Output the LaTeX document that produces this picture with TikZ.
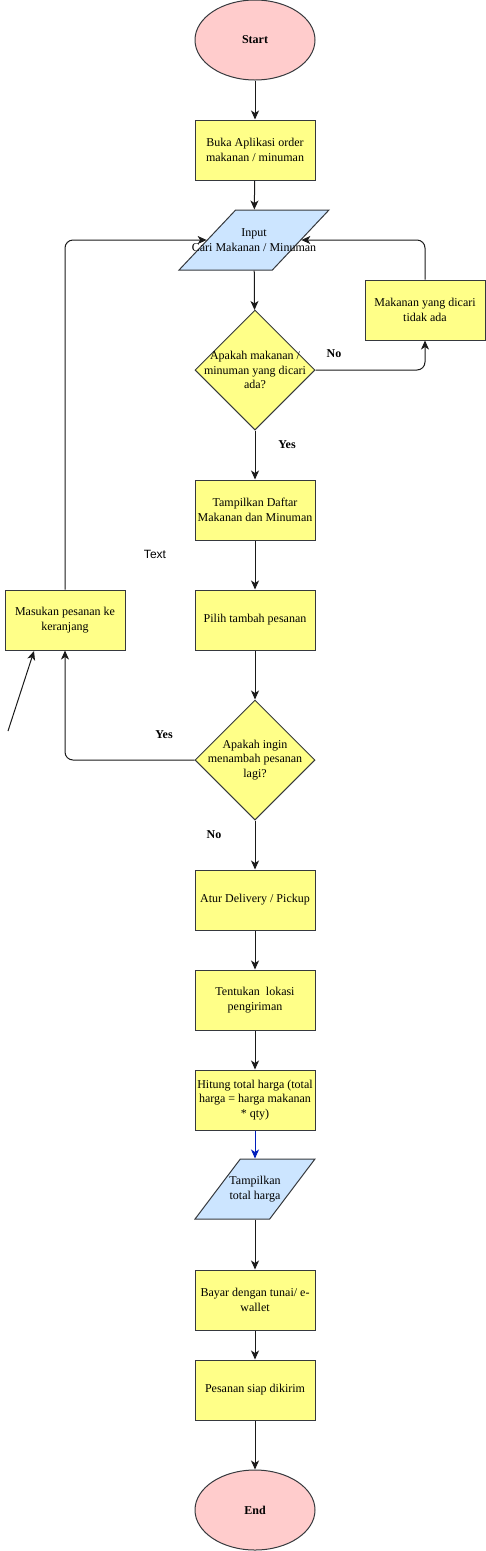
\documentclass[tikz,border=0pt]{standalone}
\usepackage{fontspec}
\setmainfont{Liberation Serif}
\setsansfont{Liberation Sans}
\usetikzlibrary{arrows.meta, positioning, calc, shapes.geometric}
\definecolor{stepFill}{HTML}{FFFF88}
\definecolor{ioFill}{HTML}{CCE5FF}
\definecolor{termFill}{HTML}{FFCCCC}
\definecolor{shapeLine}{HTML}{36393D}
\definecolor{arrowDark}{HTML}{1A1A1A}
\definecolor{arrowBlue}{HTML}{001DBC}

\begin{document}
\begin{tikzpicture}[
  x=1pt, y=-1pt,
  font=\fontsize{12}{14.5}\selectfont,
  base/.style    ={draw=shapeLine, line width=1pt, align=center, inner sep=1pt},
  terminal/.style={base, ellipse, fill=termFill, minimum width=120pt, minimum height=80pt,
                   font=\fontsize{12}{14.5}\selectfont\bfseries},
  process/.style ={base, rectangle, fill=stepFill, minimum width=120pt, minimum height=60pt},
  io/.style      ={base, trapezium, trapezium left angle=71.57, trapezium right angle=108.43,
                   trapezium stretches=true, fill=ioFill, minimum height=60pt, inner sep=2pt},
  dec/.style     ={base, diamond, fill=stepFill, minimum width=120pt, minimum height=120pt, inner sep=0pt},
  intext/.style  ={align=center, inner sep=0pt},
  edgelbl/.style ={font=\fontsize{12}{14.5}\selectfont\bfseries, inner sep=0pt},
  flow/.style    ={-{Stealth[length=9pt, width=8pt, inset=2.5pt]}, draw=arrowDark, line width=1pt},
  blueflow/.style={flow, draw=arrowBlue},
]
\useasboundingbox (0,0) rectangle (485,1551);

% ----- Main vertical spine -----
\node[terminal] (START) at (255,40) {Start};
\node[process] (OPEN) at (255,150) {Buka Aplikasi order\\makanan / minuman};

\node[io, minimum width=150pt] (INPUT) at (254,240) {\strut};
\node[intext] (INPUTtxt) at (INPUT.center) {Input\\Cari Makanan / Minuman};

\node[dec] (DEC1) at (255,370) {};
\node[intext] (DEC1txt) at (DEC1.center) {Apakah makanan /\\minuman yang dicari\\ada?};

\node[process] (LIST) at (255,510) {Tampilkan Daftar\\Makanan dan Minuman};
\node[process] (PICK) at (255,620) {Pilih tambah pesanan};

\node[dec] (DEC2) at (255,760) {};
\node[intext] (DEC2txt) at (DEC2.center) {Apakah ingin\\menambah pesanan\\lagi?};

\node[process] (DELIV) at (255,900) {Atur Delivery / Pickup};
\node[process] (LOC) at (255,1000) {Tentukan~~lokasi\\pengiriman};
\node[process] (TOTAL) at (255,1100) {Hitung total harga (total\\harga = harga makanan\\* qty)};

\node[io, minimum width=120pt] (SHOWTOT) at (255,1189) {\strut};
\node[intext] (SHOWTOTtxt) at (SHOWTOT.center) {Tampilkan\\total harga};

\node[process] (PAY) at (255,1300) {Bayar dengan tunai/ e-\\wallet};
\node[process] (READY) at (255,1390) {Pesanan siap dikirim};
\node[terminal] (END) at (255,1510) {End};

% ----- Side boxes -----
\node[process] (NOTFOUND) at (425,310) {Makanan yang dicari\\tidak ada};
\node[process] (CART) at (65,620) {Masukan pesanan ke\\keranjang};

% ----- Labels -----
\node[edgelbl] (noA)  at (334,354) {No};
\node[edgelbl] (yesA) at (287,445) {Yes};
\node[edgelbl] (yesB) at (164,735) {Yes};
\node[edgelbl] (noB)  at (214,835) {No};
\node[font=\sffamily\fontsize{12}{14.5}\selectfont, inner sep=0pt] (TEXT) at (155,554) {Text};

% ----- Arrows on the spine -----
\draw[flow] (START) -- (OPEN);
\draw[flow] (OPEN) -- (INPUT);
\draw[flow] (INPUT) -- (DEC1);
\draw[flow] (DEC1) -- (LIST);
\draw[flow] (LIST) -- (PICK);
\draw[flow] (PICK) -- (DEC2);
\draw[flow] (DEC2) -- (DELIV);
\draw[flow] (DELIV) -- (LOC);
\draw[flow] (LOC) -- (TOTAL);
\draw[blueflow] (TOTAL) -- (SHOWTOT);
\draw[flow] (SHOWTOT) -- (PAY);
\draw[flow] (PAY) -- (READY);
\draw[flow] (READY) -- (END);

% ----- Branches and loop-backs -----
\coordinate (inRight) at ($(INPUT.top right corner)!0.5!(INPUT.bottom right corner)$);
\coordinate (inLeft)  at ($(INPUT.top left corner)!0.5!(INPUT.bottom left corner)$);
\draw[flow, rounded corners=8pt] (DEC1.east) -| (NOTFOUND.south);
\draw[flow, rounded corners=8pt] (NOTFOUND.north) |- (inRight);
\draw[flow, rounded corners=8pt] (DEC2.west) -| (CART.south);
\draw[flow, rounded corners=8pt] (CART.north) |- (inLeft);

% ----- Loose arrow -----
\coordinate (strayTail) at (8,731);
\coordinate (strayHead) at (34,651);
\draw[flow] (strayTail) -- (strayHead);

\end{tikzpicture}
\end{document}
